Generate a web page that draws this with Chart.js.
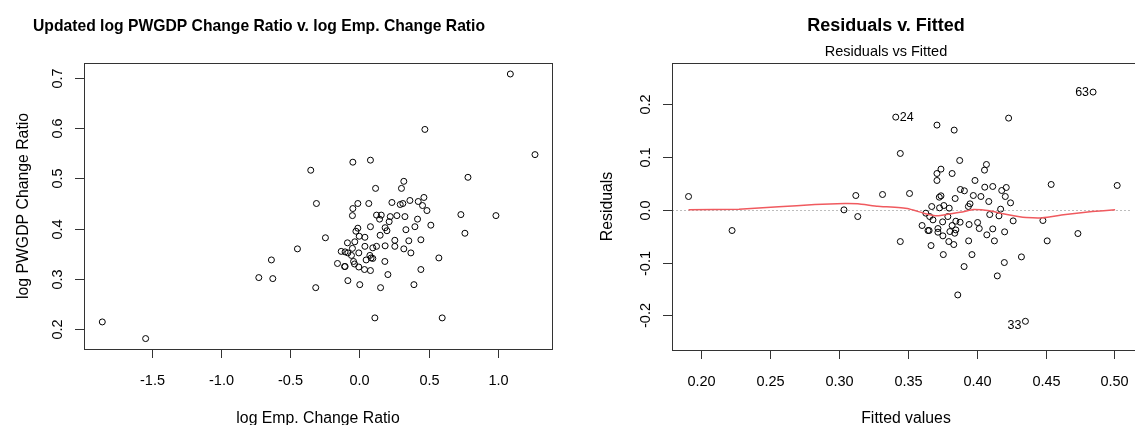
<!DOCTYPE html>
<html>
<head>
<meta charset="utf-8">
<script src="https://cdn.jsdelivr.net/npm/chart.js@4.4.1/dist/chart.umd.min.js"></script>
<style>
  body { margin: 0; background: #fff; }
  #wrap { position: relative; width: 1135px; height: 425px; }
  canvas { position: absolute; top: 0; }
</style>
</head>
<body>
<div id="wrap">
  <canvas id="left" width="567" height="425" style="left:0"></canvas>
  <canvas id="right" width="568" height="425" style="left:567px"></canvas>
</div>
<script>
// left panel: log Emp. Change Ratio (x) vs log PWGDP Change Ratio (y)
const empChange = [-1.857, -1.544, 1.089, 1.267, 0.472, 0.783, -0.048, 0.079, -0.352, -0.311,
  -0.246, -0.448, -0.636, -0.727, -0.626, -0.316, 0.111, 0.597, 0.985, 0.732,
  0.761, 0.573, 0.393, 0.443, 0.205, 0.152, 0.002, -0.084, 0.320, 0.303,
  0.116, 0.465, 0.455, 0.487, 0.424, 0.364, 0.313, 0.294, 0.234, 0.067,
  -0.012, -0.048, -0.051, 0.123, 0.157, 0.145, 0.222, 0.270, 0.328, 0.419,
  0.515, 0.400, 0.335, 0.214, 0.185, 0.198, 0.149, 0.079, -0.012, -0.026,
  -0.002, 0.039, -0.034, -0.087, 0.443, 0.356, 0.255, 0.255, 0.320, 0.371,
  0.185, 0.123, 0.096, 0.039, -0.051, -0.132, -0.104, -0.084, -0.058, -0.005,
  0.075, 0.084, 0.048, 0.183, -0.043, -0.159, -0.104, -0.108, -0.036, -0.005,
  0.036, 0.079, 0.096];
const pwgdpChange = [0.215, 0.182, 0.707, 0.547, 0.597, 0.502, 0.532, 0.536, 0.516, 0.450,
  0.382, 0.360, 0.338, 0.303, 0.301, 0.283, 0.223, 0.223, 0.426, 0.428,
  0.391, 0.342, 0.289, 0.319, 0.309, 0.283, 0.289, 0.297, 0.494, 0.480,
  0.480, 0.462, 0.446, 0.436, 0.454, 0.456, 0.450, 0.448, 0.452, 0.450,
  0.450, 0.440, 0.426, 0.427, 0.427, 0.419, 0.424, 0.426, 0.424, 0.419,
  0.407, 0.404, 0.398, 0.414, 0.402, 0.396, 0.387, 0.404, 0.401, 0.395,
  0.385, 0.383, 0.374, 0.372, 0.378, 0.376, 0.377, 0.365, 0.360, 0.352,
  0.366, 0.365, 0.362, 0.365, 0.361, 0.355, 0.354, 0.352, 0.347, 0.352,
  0.347, 0.342, 0.338, 0.335, 0.335, 0.331, 0.325, 0.325, 0.330, 0.324,
  0.319, 0.317, 0.341];

// right panel: residuals vs fitted
const fittedVals = [0.1909, 0.2225, 0.3037, 0.3123, 0.3137, 0.3317, 0.3413, 0.3446, 0.3446, 0.3513,
  0.3712, 0.3837, 0.4232, 0.4845, 0.4354, 0.3863, 0.5020, 0.4541, 0.4735, 0.4481,
  0.4512, 0.4325, 0.4150, 0.4201, 0.3909, 0.3966, 0.3758, 0.3669, 0.3877, 0.4071,
  0.4057, 0.3741, 0.3712, 0.3822, 0.3712, 0.3988, 0.4059, 0.4117, 0.4215, 0.4182,
  0.3882, 0.3911, 0.3976, 0.4031, 0.4208, 0.4246, 0.4088, 0.3844, 0.3729, 0.3741,
  0.3674, 0.3762, 0.3801, 0.3940, 0.3952, 0.4174, 0.3631, 0.3659, 0.3683, 0.3753,
  0.3791, 0.3849, 0.3880, 0.4095, 0.4162, 0.4265, 0.4007, 0.3945, 0.4019, 0.4117,
  0.4203, 0.3604, 0.3647, 0.3655, 0.3719, 0.3719, 0.3822, 0.3806, 0.3849, 0.3841,
  0.3755, 0.4074, 0.4129, 0.3942, 0.3798, 0.3834, 0.3731];
const residVals = [0.0253, -0.0392, 0.0000, 0.0272, -0.0127, 0.0291, 0.1758, 0.1069, -0.0601, 0.0310,
  0.1607, 0.1512, 0.1739, 0.2233, -0.2113, -0.1613, 0.0462, 0.0481, -0.0449, -0.0202,
  -0.0588, -0.0892, -0.1252, -0.0999, -0.1075, -0.0848, -0.0848, -0.0677, 0.0936, 0.0860,
  0.0753, 0.0772, 0.0689, 0.0689, 0.0557, 0.0557, 0.0430, 0.0443, 0.0424, 0.0367,
  0.0386, 0.0361, 0.0272, 0.0253, 0.0253, 0.0133, 0.0158, 0.0215, 0.0240, 0.0266,
  0.0063, 0.0082, 0.0032, 0.0063, 0.0114, 0.0013, -0.0063, -0.0127, -0.0190, -0.0228,
  -0.0127, -0.0215, -0.0234, -0.0089, -0.0114, -0.0209, -0.0240, -0.0278, -0.0354, -0.0361,
  -0.0417, -0.0297, -0.0392, -0.0392, -0.0354, -0.0424, -0.0297, -0.0411, -0.0380, -0.0443,
  -0.0493, -0.0474, -0.0588, -0.0588, -0.0601, -0.0658, 0.0038];

// red smoother through residuals
const smoothFitted = [0.1909, 0.2275, 0.2563, 0.2826, 0.3042, 0.3137, 0.3281, 0.3497, 0.3616, 0.3712,
  0.3808, 0.3904, 0.3976, 0.4095, 0.4191, 0.4335, 0.4478, 0.4646, 0.4838, 0.5005];
const smoothResid = [0.0000, 0.0013, 0.0057, 0.0101, 0.0120, 0.0114, 0.0070, 0.0025, -0.0063, -0.0114,
  -0.0076, -0.0038, 0.0006, -0.0019, -0.0076, -0.0139, -0.0152, -0.0089, -0.0032, 0.0000];

// labelled observations (index into fittedVals / residVals)
const idIndex = [6, 13, 14];
const idLabels = ['24', '63', '33'];

const leftXTicks = [-1.5, -1.0, -0.5, 0.0, 0.5, 1.0];
const leftXLabels = ['-1.5', '-1.0', '-0.5', '0.0', '0.5', '1.0'];
const leftYTicks = [0.2, 0.3, 0.4, 0.5, 0.6, 0.7];
const leftYLabels = ['0.2', '0.3', '0.4', '0.5', '0.6', '0.7'];
const rightXTicks = [0.20, 0.25, 0.30, 0.35, 0.40, 0.45, 0.50];
const rightXLabels = ['0.20', '0.25', '0.30', '0.35', '0.40', '0.45', '0.50'];
const rightYTicks = [-0.2, -0.1, 0.0, 0.1, 0.2];
const rightYLabels = ['-0.2', '-0.1', '0.0', '0.1', '0.2'];

const FONT = "'Liberation Sans', Arial, sans-serif";

// R base graphics look: box, outside ticks, rotated y labels, titles
const rStyle = {
  id: 'rStyle',
  beforeDatasetsDraw(chart, args, o) {
    if (!o.zeroLine) return;
    const ctx = chart.ctx, a = chart.chartArea;
    const y = Math.round(chart.scales.y.getPixelForValue(0)) + 0.5;
    ctx.save();
    ctx.strokeStyle = '#bdbdbd';
    ctx.lineWidth = 1;
    ctx.setLineDash([2, 2]);
    ctx.beginPath();
    ctx.moveTo(a.left, y);
    ctx.lineTo(a.right, y);
    ctx.stroke();
    ctx.restore();
  },
  afterDatasetsDraw(chart, args, o) {
    const ctx = chart.ctx, a = chart.chartArea;
    const sx = chart.scales.x, sy = chart.scales.y;
    ctx.save();
    ctx.strokeStyle = '#333';
    ctx.lineWidth = 1;
    ctx.strokeRect(a.left + 0.5, a.top + 0.5, (o.openRight ? a.right + 10 : a.right) - a.left - 1, a.bottom - a.top);
    ctx.fillStyle = '#000';
    ctx.font = '14.5px ' + FONT;

    // x axis
    ctx.textAlign = 'center';
    ctx.textBaseline = 'alphabetic';
    o.xTicks.forEach((t, i) => {
      const px = Math.round(sx.getPixelForValue(t)) + 0.5;
      ctx.beginPath();
      ctx.moveTo(px, a.bottom);
      ctx.lineTo(px, a.bottom + 9);
      ctx.stroke();
      ctx.fillText(o.xLabels[i], px, a.bottom + 36);
    });

    // y axis
    o.yTicks.forEach((t, i) => {
      const py = Math.round(sy.getPixelForValue(t)) + 0.5;
      ctx.beginPath();
      ctx.moveTo(a.left, py);
      ctx.lineTo(a.left - 9, py);
      ctx.stroke();
      ctx.save();
      ctx.translate(a.left - 22, py);
      ctx.rotate(-Math.PI / 2);
      ctx.fillText(o.yLabels[i], 0, 0);
      ctx.restore();
    });

    // axis titles
    ctx.font = '15.8px ' + FONT;
    ctx.fillText(o.xTitle, o.xTitleX, 423);
    ctx.save();
    ctx.translate(o.yTitleX, (a.top + a.bottom) / 2);
    ctx.rotate(-Math.PI / 2);
    ctx.fillText(o.yTitle, 0, 0);
    ctx.restore();

    // main title and caption
    ctx.font = 'bold ' + o.titleSize + 'px ' + FONT;
    ctx.fillText(o.title, o.titleX, 31);
    if (o.subtitle) {
      ctx.font = '14.5px ' + FONT;
      ctx.fillText(o.subtitle, o.titleX, 56);
    }

    // labelled points
    if (o.idIndex) {
      const ds = chart.getDatasetMeta(o.pointsDataset).data;
      const mid = (Math.min(...fittedVals) + Math.max(...fittedVals)) / 2;
      ctx.font = '12.5px ' + FONT;
      ctx.textBaseline = 'middle';
      o.idIndex.forEach((k, i) => {
        const el = ds[k];
        const right = fittedVals[k] < mid;
        ctx.textAlign = right ? 'left' : 'right';
        const dy = residVals[k] < 0 ? 4 : 0;
        ctx.fillText(o.idLabels[i], el.x + (right ? 4 : -4), el.y + dy);
      });
    }
    ctx.restore();
  }
};

function baseOptions(pad, xr, yr, rOpts) {
  return {
    responsive: false,
    animation: false,
    events: [],
    layout: { padding: pad },
    scales: {
      x: { type: 'linear', min: xr[0], max: xr[1], display: false },
      y: { type: 'linear', min: yr[0], max: yr[1], display: false }
    },
    plugins: {
      legend: { display: false },
      tooltip: { enabled: false },
      rStyle: rOpts
    }
  };
}

const pointStyle = {
  pointRadius: 3,
  pointBorderWidth: 1,
  pointBorderColor: '#000',
  pointBackgroundColor: 'rgba(0,0,0,0)'
};

new Chart(document.getElementById('left'), {
  type: 'scatter',
  data: {
    datasets: [Object.assign({
      data: empChange.map((v, i) => ({ x: v, y: pwgdpChange[i] }))
    }, pointStyle)]
  },
  options: baseOptions(
    { left: 84, right: 14, top: 63, bottom: 76 },
    [-1.989, 1.397], [0.1613, 0.7288],
    {
      xTicks: leftXTicks, xLabels: leftXLabels,
      yTicks: leftYTicks, yLabels: leftYLabels,
      xTitle: 'log Emp. Change Ratio', xTitleX: 318,
      yTitle: 'log PWGDP Change Ratio', yTitleX: 28,
      title: 'Updated log PWGDP Change Ratio v. log Emp. Change Ratio', titleX: 259, titleSize: 15.7
    }
  ),
  plugins: [rStyle]
});

new Chart(document.getElementById('right'), {
  type: 'scatter',
  data: {
    datasets: [
      {
        type: 'line',
        data: smoothFitted.map((v, i) => ({ x: v, y: smoothResid[i] })),
        borderColor: '#f05a5f',
        borderWidth: 1.5,
        pointRadius: 0,
        tension: 0.12,
        fill: false
      },
      Object.assign({
        data: fittedVals.map((v, i) => ({ x: v, y: residVals[i] }))
      }, pointStyle)
    ]
  },
  options: baseOptions(
    { left: 105, right: 0, top: 63, bottom: 75 },
    [0.1789, 0.5113], [-0.2657, 0.2784],
    {
      zeroLine: true, openRight: true,
      xTicks: rightXTicks, xLabels: rightXLabels,
      yTicks: rightYTicks, yLabels: rightYLabels,
      xTitle: 'Fitted values', xTitleX: 339,
      yTitle: 'Residuals', yTitleX: 45,
      title: 'Residuals v. Fitted', subtitle: 'Residuals vs Fitted', titleX: 319, titleSize: 18,
      idIndex: idIndex, idLabels: idLabels, pointsDataset: 1
    }
  ),
  plugins: [rStyle]
});
</script>
</body>
</html>
